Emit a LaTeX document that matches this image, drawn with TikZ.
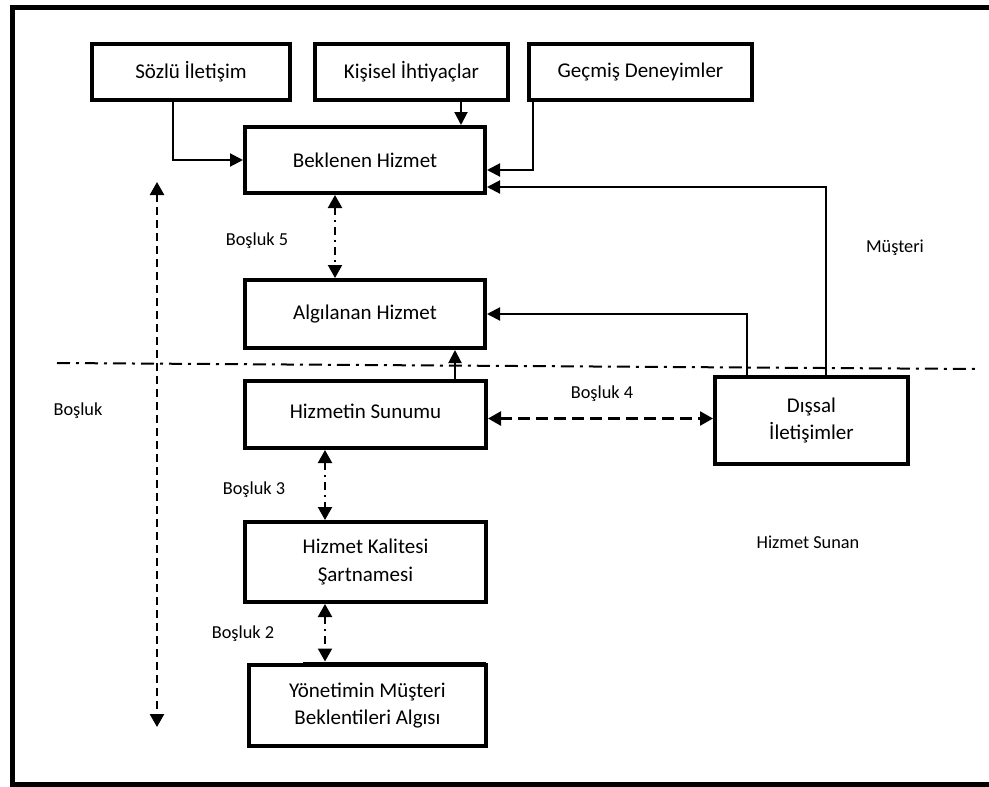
\documentclass[tikz,border=0pt]{standalone}
\usepackage{fontspec}
\setmainfont{Carlito}
\usetikzlibrary{arrows.meta,calc}
\begin{document}
\begin{tikzpicture}[x=1pt,y=-1pt,
  box/.style={draw,line width=4pt,inner sep=0pt,align=center,font=\fontsize{21}{27.5}\selectfont},
  lbl/.style={inner sep=0pt,font=\fontsize{18.3}{22}\selectfont},
  tip/.style={-{Triangle[length=13pt,width=13pt]}},
  arr/.style={line width=2pt,tip},
  gaparr/.style={line width=2.2pt,{Triangle[length=13pt,width=14pt]}-{Triangle[length=13pt,width=14pt]},dash pattern=on 8pt off 5pt on 2pt off 5pt},
  dasharr/.style={line width=2.5pt,{Triangle[length=13pt,width=14pt]}-{Triangle[length=13pt,width=14pt]},dash pattern=on 12pt off 6pt},
  longarr/.style={line width=2.5pt,{Triangle[length=13pt,width=14pt]}-{Triangle[length=13pt,width=14pt]},dash pattern=on 8pt off 5pt},
  divider/.style={line width=2pt,dash pattern=on 13pt off 6pt on 3pt off 6pt}
]
\useasboundingbox (0,0) rectangle (989,787);
\begin{scope}
  \clip (0,0) rectangle (989,787);
  \draw[line width=5pt] (12,7) rectangle (1010,784.5);
\end{scope}

% boxes
\node[box,minimum width=198pt,minimum height=56pt] (soz) at (191,72) {Sözlü İletişim};
\node[box,minimum width=193pt,minimum height=56pt] (kis) at (411.5,72) {Kişisel İhtiyaçlar};
\node[box,minimum width=223pt,minimum height=56pt] (gec) at (640.5,72) {Geçmiş Deneyimler};
\node[box,minimum width=240pt,minimum height=66pt] (bek) at (365,160) {Beklenen Hizmet};
\node[box,minimum width=240pt,minimum height=68pt] (alg) at (365,314) {Algılanan Hizmet};
\node[box,minimum width=241pt,minimum height=67pt] (sun) at (365.5,414.5) {\raisebox{6pt}{Hizmetin Sunumu}};
\node[box,minimum width=241pt,minimum height=80pt] (kal) at (365.5,562) {Hizmet Kalitesi\\Şartnamesi};
\node[box,minimum width=237pt,minimum height=81pt] (yon) at (367.5,705.5) {Yönetimin Müşteri\\Beklentileri Algısı};
\node[box,minimum width=193pt,minimum height=87pt] (dis) at (811.5,420.5) {Dışsal\\İletişimler};
\fill ([xshift=56pt,yshift=1.5pt]yon.north west) rectangle ([xshift=-2pt,yshift=-4pt]yon.north east);

% labels
\node[lbl] (b5) at (257,241) {Boşluk 5};
\node[lbl] (b4) at (602,394) {Boşluk 4};
\node[lbl] (b3) at (254,490) {Boşluk 3};
\node[lbl] (b2) at (243,634) {Boşluk 2};
\node[lbl] (b0) at (78,411) {Boşluk};
\node[lbl] (mus) at (895,248) {Müşteri};
\node[lbl] (hs) at (808,542) {Hizmet Sunan};

% divider line
\coordinate (d1) at (57,363);
\coordinate (d2) at (977,369);
\draw[divider] (d1) -- (d2);

% long gap arrow
\coordinate (g1) at (157,182);
\coordinate (g2) at (157,727);
\draw[longarr] (g1) -- (g2);

% solid connectors
\draw[arr] ([xshift=83pt]soz.south west) |- (bek.west);
\draw[arr] ([xshift=148pt]kis.south west) coordinate (k1) -- (k1 |- bek.north);
\draw[arr] ([xshift=6pt]gec.south west) |- ([yshift=-10pt]bek.east);
\draw[arr] ([xshift=113pt]dis.north west) |- ([yshift=-27pt]bek.east);
\draw[arr] ([xshift=34pt]dis.north west) |- (alg.east);
\draw[arr] ([xshift=212pt]sun.north west) coordinate (s1) -- (s1 |- alg.south);

% gap arrows
\draw[gaparr] ([xshift=92pt]bek.south west) coordinate (c1) -- (c1 |- alg.north);
\draw[gaparr] ([xshift=82pt]sun.south west) coordinate (c2) -- (c2 |- kal.north);
\draw[gaparr] ([xshift=82pt]kal.south west) coordinate (c3) -- ([yshift=1.5pt]c3 |- yon.north);
\draw[dasharr] ([yshift=-4pt]sun.east) coordinate (c4) -- (c4 -| dis.west);
\end{tikzpicture}
\end{document}
